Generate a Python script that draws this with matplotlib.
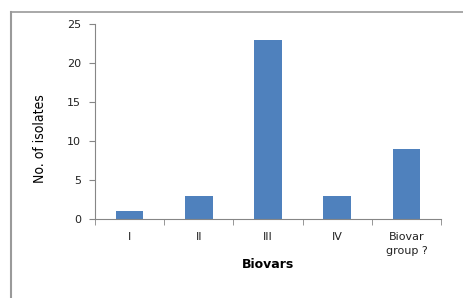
import matplotlib.pyplot as plt
import numpy as np

categories = ["I", "II", "III", "IV", "Biovar\ngroup ?"]
isolates = [1, 3, 23, 3, 9]
y_ticks = [0, 5, 10, 15, 20, 25]

fig = plt.figure(figsize=(4.63, 2.98), dpi=100)
ax = fig.add_axes([95 / 463, 1 - 219 / 298, (441 - 95) / 463, (219 - 24) / 298])

x = np.arange(len(categories))
ax.bar(x, isolates, width=0.4, color="#4F81BD")

ax.set_xlim(-0.5, len(categories) - 0.5)
ax.set_ylim(0, 25)
ax.set_yticks(y_ticks)
ax.set_xticks(x)
ax.set_xticklabels(categories, fontsize=8, color="#222222", linespacing=1.5)
ax.set_xticks(np.arange(len(categories) + 1) - 0.5, minor=True)
ax.tick_params(axis="x", which="major", length=0, pad=9)
ax.tick_params(axis="x", which="minor", length=4, color="#868686", direction="out")
ax.tick_params(axis="y", length=4, color="#868686", labelsize=8, labelcolor="#222222", pad=6)

for s in ["top", "right"]:
    ax.spines[s].set_visible(False)
for s in ["left", "bottom"]:
    ax.spines[s].set_color("#868686")

ax.set_ylabel("No. of isolates", fontsize=10, fontstretch="condensed",
              family=["DejaVu Sans"])
# label sits a bit below the axis middle in the original
ax.yaxis.set_label_coords(-48 / 346, 0.41)
ax.set_xlabel("Biovars", fontsize=9, fontweight="bold", labelpad=2)

# outer frame (left and top border)
fig.lines.append(plt.Line2D([11 / 463, 11 / 463], [0, 1 - 12 / 298],
                            transform=fig.transFigure, color="#9a9a9a", lw=1.5))
fig.lines.append(plt.Line2D([11 / 463, 1], [1 - 12 / 298, 1 - 12 / 298],
                            transform=fig.transFigure, color="#9a9a9a", lw=1.2))

fig.savefig("out.png", dpi=100)
